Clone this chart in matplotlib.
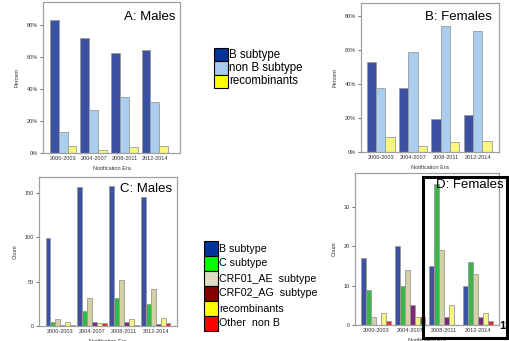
import matplotlib
matplotlib.use("Agg")
import matplotlib.pyplot as plt
import numpy as np
from matplotlib.patches import Rectangle
from matplotlib.ticker import FuncFormatter

plt.rcParams['font.family'] = ['Liberation Sans', 'DejaVu Sans']

W, H = 509, 341

# ---- data ----
eras = ["2000-2003", "2004-2007", "2008-2011", "2012-2014"]

# Panel A: Males, percent
males_pct_B = [82.9, 72.1, 62.5, 64.2]
males_pct_nonB = [12.9, 27.1, 34.8, 32.1]
males_pct_rec = [4.6, 1.9, 3.5, 4.6]

# Panel B: Females, percent
females_pct_B = [53.0, 37.5, 19.5, 22.0]
females_pct_nonB = [37.5, 58.5, 74.0, 71.0]
females_pct_rec = [9.0, 3.5, 6.0, 6.5]

# Panel C: Males, counts
males_cnt_B = [99, 157, 158, 145]
males_cnt_C = [5, 17, 31, 25]
males_cnt_CRF01 = [8, 32, 52, 42]
males_cnt_CRF02 = [1, 5, 4, 2]
males_cnt_rec = [5, 3, 8, 9]
males_cnt_other = [1, 3, 1.5, 3]

# Panel D: Females, counts
females_cnt_B = [17, 20, 15, 10]
females_cnt_C = [9, 10, 36, 16]
females_cnt_CRF01 = [2, 14, 19, 13]
females_cnt_CRF02 = [0, 5, 2, 2]
females_cnt_rec = [3, 2, 5, 3]
females_cnt_other = [1, 2, 0, 1]

legend1_labels = ["B subtype", "non B subtype", "recombinants"]
legend2_labels = ["B subtype", "C subtype", "CRF01_AE  subtype", "CRF02_AG  subtype",
                  "recombinants", "Other  non B"]

# ---- styles ----
bar_blue = "#3B52A3"
bar_lblue = "#AACFEE"
bar_yellow = "#F8F67C"
bar_green = "#3BB54A"
bar_tan = "#D4D1A6"
bar_purple = "#7A2A78"
bar_red = "#E8262A"
edge = "#9A9A9A"

leg1_colors = ["#00349A", "#A6CAF0", "#FFFF00"]
leg2_colors = ["#00349A", "#00FF00", "#DDDDC5", "#800000", "#FFFF00", "#FF0000"]

fig = plt.figure(figsize=(W / 100, H / 100), dpi=100)
fig.patch.set_facecolor("white")


def ax_px(left, top, right, bottom):
    return fig.add_axes([left / W, 1 - bottom / H, (right - left) / W, (bottom - top) / H])


def style_ax(ax, ylim, xlim, yticks, pct, ylabel, ylabelpad):
    ax.set_xlim(*xlim)
    ax.set_ylim(*ylim)
    ax.set_yticks(yticks)
    if pct:
        ax.yaxis.set_major_formatter(FuncFormatter(lambda v, p: f"{int(v)}%"))
    ax.set_xticks(range(len(eras)))
    ax.set_xticklabels(eras)
    ax.tick_params(axis="x", length=0, labelsize=4, pad=2.5, colors="#333333")
    ax.tick_params(axis="y", length=2, width=0.5, labelsize=4, pad=1.5, colors="#333333")
    for s in ax.spines.values():
        s.set_color("#A0A0A0")
        s.set_linewidth(0.9)
    ax.set_ylabel(ylabel, fontsize=4, labelpad=ylabelpad, color="#333333")
    ax.set_xlabel("Notification Era", fontsize=4, labelpad=3, color="#333333")


def draw_bars(ax, series, colors, width):
    x = np.arange(len(eras))
    n = len(series)
    for i, (vals, c) in enumerate(zip(series, colors)):
        off = (i - (n - 1) / 2) * width
        ax.bar(x + off, vals, width=width, color=c, edgecolor=edge, linewidth=0.6, zorder=2)


# Panel A
axA = ax_px(43, 2, 180, 153)
draw_bars(axA, [males_pct_B, males_pct_nonB, males_pct_rec], [bar_blue, bar_lblue, bar_yellow], 0.29)
style_ax(axA, (0, 94.4), (-0.66, 3.82), [0, 20, 40, 60, 80], True, "Percent", 5)

# Panel B
axB = ax_px(361, 3, 499, 152)
draw_bars(axB, [females_pct_B, females_pct_nonB, females_pct_rec], [bar_blue, bar_lblue, bar_yellow], 0.29)
style_ax(axB, (0, 87.6), (-0.61, 3.66), [0, 20, 40, 60, 80], True, "Percent", 5)

# Panel C
axC = ax_px(39, 177, 177, 326)
draw_bars(axC, [males_cnt_B, males_cnt_C, males_cnt_CRF01, males_cnt_CRF02, males_cnt_rec, males_cnt_other],
          [bar_blue, bar_green, bar_tan, bar_purple, bar_yellow, bar_red], 0.155)
style_ax(axC, (0, 167.8), (-0.67, 3.67), [0, 50, 100, 150], False, "Count", 5)

# Panel D
axD = ax_px(355, 173, 499, 325)
draw_bars(axD, [females_cnt_B, females_cnt_C, females_cnt_CRF01, females_cnt_CRF02, females_cnt_rec, females_cnt_other],
          [bar_blue, bar_green, bar_tan, bar_purple, bar_yellow, bar_red], 0.147)
style_ax(axD, (0, 38.7), (-0.62, 3.62), [0, 10, 20, 30], False, "Count", 5)

# Panel titles
def ftext(x, y, s, **kw):
    fig.text(x / W, 1 - y / H, s, **kw)

ftext(175, 17, "A: Males", fontsize=9.5, ha="right", va="center")
ftext(492, 17, "B: Females", fontsize=9.5, ha="right", va="center")
ftext(172, 189, "C: Males", fontsize=9.5, ha="right", va="center")
ftext(504, 185, "D: Females", fontsize=9.5, ha="right", va="center")

# Highlight rectangle around D
fig.add_artist(Rectangle((423 / W, 1 - 338 / H), (507 - 423) / W, (338 - 177) / H,
                         transform=fig.transFigure, fill=False, edgecolor="black", linewidth=2.2))

# Slide number
ftext(499, 326, "13", fontsize=8, fontweight="bold", ha="left", va="center")

# Legends
def draw_legend(x0, y0, w, h, labels, colors, fs):
    for i, (lab, c) in enumerate(zip(labels, colors)):
        top = y0 + i * h
        fig.add_artist(Rectangle((x0 / W, 1 - (top + h) / H), w / W, h / H,
                                 transform=fig.transFigure, facecolor=c, edgecolor="black", linewidth=0.8))
        ftext(x0 + w + 1.2, top + h / 2, lab, fontsize=fs, ha="left", va="center")

draw_legend(214, 48, 14, 13.4, legend1_labels, leg1_colors, 8.3)
draw_legend(204, 241, 14, 15, legend2_labels, leg2_colors, 7.7)

fig.savefig("out.png", dpi=100)
